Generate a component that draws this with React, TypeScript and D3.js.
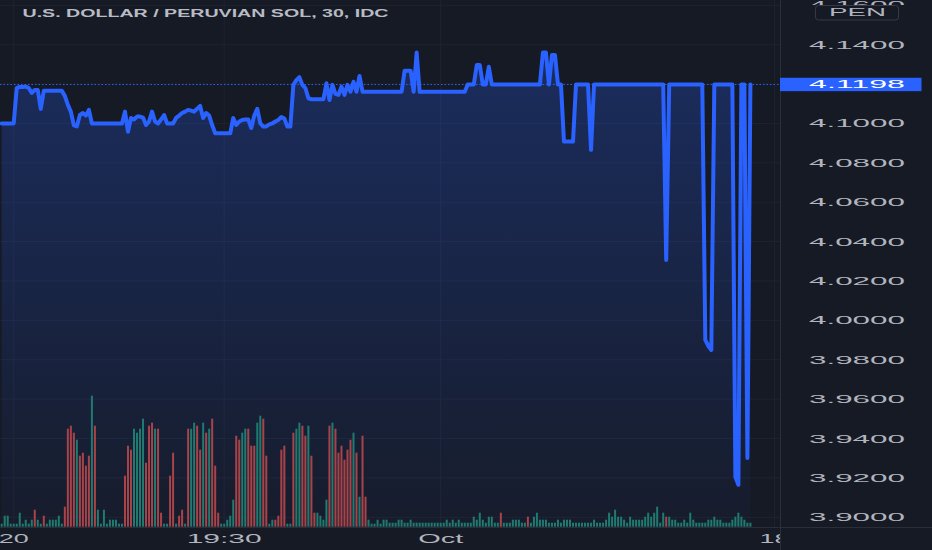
import React from "react";
import * as d3 from "d3";

const W = 932;
const H = 550;
const PANE_RIGHT = 780;
const PANE_BOTTOM = 527;

const title = "U.S. DOLLAR / PERUVIAN SOL, 30, IDC";
const currency = "PEN";
const priceTicks = [4.16, 4.14, 4.12, 4.1, 4.08, 4.06, 4.04, 4.02, 4.0, 3.98, 3.96, 3.94, 3.92, 3.9];
const timeTickIndex = [4, 74, 146, 257];
const timeTickLabels = ["20", "19:30", "Oct", "18"];

const prices = [
  4.1000, 4.1000, 4.1000, 4.1000, 4.1000,
  4.1180, 4.1185, 4.1185, 4.1187, 4.1180,
  4.1155, 4.1170, 4.1170, 4.1074, 4.1166,
  4.1166, 4.1166, 4.1166, 4.1166, 4.1166, 4.1166,
  4.1140, 4.1094, 4.1060, 4.0990, 4.0985, 4.1043, 4.1053, 4.1040, 4.1069,
  4.1000,
  4.1000, 4.1000, 4.1000, 4.1000, 4.1000, 4.1000, 4.1000, 4.1000, 4.1000, 4.1000,
  4.1060, 4.0958, 4.1028, 4.1020, 4.1035, 4.1035, 4.1030, 4.0992, 4.1010, 4.1060,
  4.1010, 4.1000, 4.1020, 4.1043, 4.1000, 4.1000, 4.1000, 4.1028, 4.1040, 4.1053,
  4.1060, 4.1069, 4.1065, 4.1060, 4.1075, 4.1089, 4.1028, 4.1053, 4.1040, 4.0992,
  4.0950, 4.0950, 4.0950, 4.0950, 4.0950, 4.0950,
  4.1028, 4.0992, 4.1010, 4.1018, 4.1020, 4.1020, 4.0977, 4.1040, 4.1074, 4.1000,
  4.0984, 4.0985, 4.0995, 4.1000, 4.1010, 4.1018, 4.1033, 4.1025, 4.0984, 4.0984,
  4.1196, 4.1220, 4.1235, 4.1196, 4.1180, 4.1128,
  4.1123, 4.1123, 4.1123, 4.1123, 4.1123,
  4.1204, 4.1119, 4.1196, 4.1150, 4.1145, 4.1187, 4.1145, 4.1196, 4.1161, 4.1212, 4.1161, 4.1241,
  4.1161, 4.1161, 4.1161, 4.1161, 4.1161, 4.1161, 4.1161, 4.1161, 4.1161, 4.1161, 4.1161, 4.1161, 4.1161, 4.1161,
  4.1268, 4.1268, 4.1268,
  4.1161, 4.1360,
  4.1161, 4.1161, 4.1161, 4.1161, 4.1161, 4.1161, 4.1161, 4.1161, 4.1161, 4.1161, 4.1161, 4.1161, 4.1161, 4.1161, 4.1161, 4.1161,
  4.1198, 4.1198, 4.1198,
  4.1297, 4.1297,
  4.1198, 4.1198,
  4.1288,
  4.1198, 4.1198, 4.1198, 4.1198, 4.1198, 4.1198, 4.1198, 4.1198, 4.1198, 4.1198, 4.1198, 4.1198, 4.1198, 4.1198, 4.1198, 4.1198, 4.1198,
  4.1360, 4.1360,
  4.1198,
  4.1348, 4.1348,
  4.1198, 4.1198,
  4.0908, 4.0908, 4.0908, 4.0908,
  4.1198, 4.1198, 4.1198, 4.1198, 4.1198,
  4.0866,
  4.1198, 4.1198, 4.1198, 4.1198, 4.1198, 4.1198, 4.1198, 4.1198, 4.1198, 4.1198, 4.1198, 4.1198,
  4.1198, 4.1198, 4.1198, 4.1198, 4.1198, 4.1198, 4.1198, 4.1198, 4.1198, 4.1198, 4.1198, 4.1198,
  4.0307,
  4.1198, 4.1198, 4.1198, 4.1198, 4.1198, 4.1198, 4.1198, 4.1198, 4.1198, 4.1198, 4.1198, 4.1198,
  3.9901, 3.9870, 3.9850,
  4.1198, 4.1198, 4.1198, 4.1198, 4.1198, 4.1198, 4.1198,
  3.9206, 3.9165,
  4.1198, 4.1198,
  3.9301, 4.1198,
];

const volumes = [
  3, 11, 11, 3, 3, 3, 14, 3, 7, 3,
  7, 17, 7, 3, 11, 3, 7, 7, 7, 11,
  3, 20, 98, 101, 94, 87, 71, 74, 61, 71,
  131, 101, 17, 3, 17, 3, 7, 7, 7, 3,
  3, 51, 81, 77, 98, 94, 98, 108, 64, 101,
  104, 98, 98, 14, 3, 3, 51, 74, 3, 11,
  17, 3, 98, 98, 104, 101, 77, 104, 94, 98,
  108, 61, 14, 3, 3, 7, 11, 27, 91, 87,
  94, 98, 98, 81, 81, 104, 111, 108, 71, 3,
  7, 7, 11, 77, 81, 3, 3, 94, 98, 104,
  101, 91, 101, 71, 14, 14, 11, 7, 27, 101,
  104, 98, 74, 81, 67, 77, 87, 94, 74, 30,
  91, 30, 7, 3, 3, 7, 3, 7, 7,
  4, 4, 4, 7, 7, 4, 4, 7, 4, 4,
  4, 4, 4, 4, 4, 4, 4, 4, 4, 7,
  4, 7, 4, 7, 4, 4, 4, 4, 10, 7,
  14, 7, 4, 10, 10, 4, 4, 14, 4, 4,
  4, 7, 7, 7, 4, 4, 10, 4, 10, 14,
  7, 7, 7, 4, 4, 4, 7, 4, 7, 7,
  7, 4, 4, 4, 4, 4,
  4, 4, 7, 4, 4, 4, 7, 14, 10, 17,
  10, 10, 7, 4, 10, 7, 7, 7, 7, 10,
  14, 10, 14, 20, 4, 14, 10, 10, 7, 7,
  4, 4, 7, 4, 14, 7, 4, 4, 4, 4,
  7, 7, 10, 7, 7, 4, 4, 4, 7, 10,
  14, 10, 7, 4, 4,
];

// u = up (green), d = down (red)
const volumeDirection = (
  "uuuuuuuuuu" + "uduuduuuuu" + "uddddudddd" + "uduuuuuuuu" + "uddduuuudd" +
  "dudduuddud" + "duduuddudu" + "ddduuuuudd" + "uuddduuddu" + "udddduuduu" +
  "ddudduuuud" + "uddddddudu" + "dduuuuuuu" +
  "uuuuuuuuuu" + "uuuuuuuuuu" + "uuuuuuuuuu" + "uuuuuuuduu" + "uuuuuuduuu" +
  "uuuuuuuuuu" + "uuuuuu" +
  "uuuuuuuuuu" + "uuuuuuuuuu" + "uuuuuuduuu" + "uuuuuuuuuu" + "uuuuuuuuuu" + "uuuuu"
).split("");

const BG = "#161A25";
const TEXT = "#B2B5BE";
const GRID = "#1F2331";
const BORDER = "#2A2E39";
const LINE = "#2962FF";
const UP = "#1F7A70";
const DOWN = "#A8434A";
const FONT = "'Liberation Sans', Arial, sans-serif";

export default function App() {
  const n = prices.length;
  const x = d3.scaleLinear().domain([0, n - 1]).range([1.7, 750.4]);
  const y = d3.scaleLinear().domain([3.9, 4.16]).range([517.3, 5.3]);
  const vy = d3
    .scaleLinear()
    .domain([0, d3.max(volumes) as number])
    .range([526.7, 395.7]);

  const line = d3
    .line<number>()
    .x((_, i) => x(i))
    .y((d) => y(d));
  const area = d3
    .area<number>()
    .x((_, i) => x(i))
    .y0(PANE_BOTTOM)
    .y1((d) => y(d));

  const last = prices[n - 1];
  const lastY = y(last);
  const fmt = d3.format(".4f");
  const top = y(d3.max(prices) as number);

  return (
    <svg
      width={W}
      height={H}
      style={{ position: "absolute", left: 0, top: 0, display: "block", background: BG }}
      fontFamily={FONT}
    >
      <defs>
        <linearGradient id="areaGrad" gradientUnits="userSpaceOnUse" x1={0} x2={0} y1={top} y2={PANE_BOTTOM}>
          <stop offset="0%" stopColor={LINE} stopOpacity={0.26} />
          <stop offset="100%" stopColor={LINE} stopOpacity={0.03} />
        </linearGradient>
        <clipPath id="pane">
          <rect x={0} y={0} width={PANE_RIGHT} height={PANE_BOTTOM} />
        </clipPath>
        <clipPath id="aboveBadge">
          <rect x={PANE_RIGHT} y={0} width={W - PANE_RIGHT} height={5} />
        </clipPath>
      </defs>
      <rect x={0} y={0} width={W} height={H} fill={BG} />

      {/* grid */}
      <g clipPath="url(#pane)">
        {priceTicks.map((t) => (
          <line key={"h" + t} x1={0} x2={PANE_RIGHT} y1={y(t)} y2={y(t)} stroke={GRID} strokeWidth={1} />
        ))}
        {timeTickIndex.map((t) => (
          <line key={"v" + t} x1={x(t)} x2={x(t)} y1={0} y2={PANE_BOTTOM} stroke={GRID} strokeWidth={1} />
        ))}
      </g>

      {/* area + volume + line */}
      <g clipPath="url(#pane)">
        <path d={area(prices) || ""} fill="url(#areaGrad)" />
        {volumes.map((v, i) => (
          <rect
            key={"v" + i}
            x={x(i) - 1}
            width={2}
            y={vy(v)}
            height={vy(0) - vy(v)}
            fill={volumeDirection[i] === "u" ? UP : DOWN}
          />
        ))}
        <line x1={0} x2={PANE_RIGHT} y1={lastY} y2={lastY} stroke={LINE} strokeWidth={1} strokeDasharray="1.5 2" />
        <path
          d={line(prices) || ""}
          fill="none"
          stroke={LINE}
          strokeWidth={4}
          strokeLinejoin="round"
          strokeLinecap="round"
        />
      </g>

      {/* title */}
      <text
        x={22.5}
        y={16.7}
        fontSize={11}
        fontWeight="bold"
        fill="#B8BBC4"
        textLength={366}
        lengthAdjust="spacingAndGlyphs"
      >
        {title}
      </text>

      {/* time axis */}
      <g>
        {timeTickIndex.map((t, k) => {
          const label = timeTickLabels[k];
          const len = label.length * 15;
          return (
            <text
              key={"tl" + t}
              x={x(t) - len / 2}
              y={543}
              fontSize={12}
              fill={TEXT}
              textLength={len}
              lengthAdjust="spacingAndGlyphs"
            >
              {label}
            </text>
          );
        })}
      </g>

      {/* right price axis */}
      <rect x={PANE_RIGHT} y={0} width={W - PANE_RIGHT} height={H} fill={BG} />
      <line x1={0} x2={W} y1={PANE_BOTTOM + 0.5} y2={PANE_BOTTOM + 0.5} stroke={BORDER} strokeWidth={1} />
      <line x1={PANE_RIGHT + 0.5} x2={PANE_RIGHT + 0.5} y1={0} y2={H} stroke={BORDER} strokeWidth={1} />
      {priceTicks
        .filter((t) => Math.abs(y(t) - lastY) > 12)
        .map((t, k) => (
          <text
            key={"pl" + t}
            x={809}
            y={y(t) + 4}
            fontSize={11}
            fill={TEXT}
            textLength={96}
            lengthAdjust="spacingAndGlyphs"
            clipPath={k === 0 ? "url(#aboveBadge)" : undefined}
          >
            {fmt(t)}
          </text>
        ))}
      <rect x={PANE_RIGHT} y={lastY - 6.7} width={141.5} height={13.4} fill={LINE} />
      <text x={809} y={lastY + 4} fontSize={11} fill="#FFFFFF" textLength={96} lengthAdjust="spacingAndGlyphs">
        {fmt(last)}
      </text>
      <rect x={815.5} y={5.5} width={83} height={14.5} rx={3} fill={BG} stroke="#363A45" strokeWidth={1} />
      <text x={829} y={16.2} fontSize={11} fill={TEXT} textLength={57} lengthAdjust="spacingAndGlyphs">
        {currency}
      </text>
    </svg>
  );
}
